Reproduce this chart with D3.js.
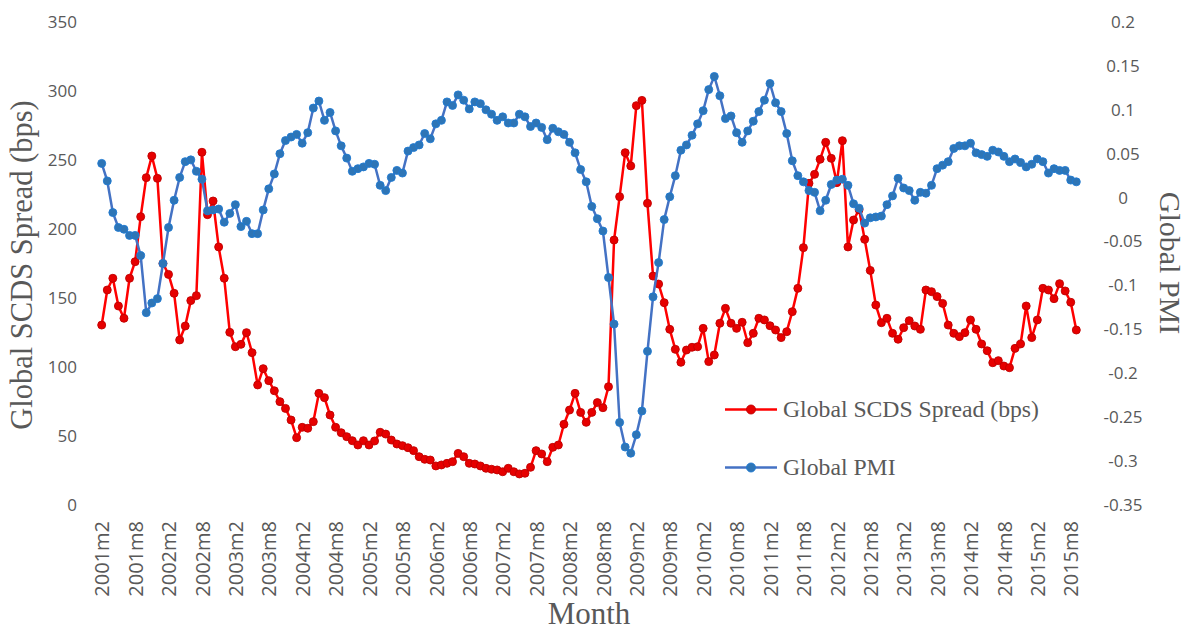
<!DOCTYPE html>
<html>
<head>
<meta charset="utf-8">
<script src="https://cdn.jsdelivr.net/npm/d3@7"></script>
<style>
  html, body { margin: 0; padding: 0; background: #fff; }
  svg { display: block; }
</style>
</head>
<body>
<svg id="chart" width="1191" height="630"></svg>
<script>
// ---- Data ----
// months 2001m2 .. 2015m9 (category names)
const months = [];
for (let y = 2001; y <= 2015; y++) {
  for (let m = 1; m <= 12; m++) {
    if (y === 2001 && m < 2) continue;
    if (y === 2015 && m > 9) continue;
    months.push(y + "m" + m);
  }
}
const tickLabels = ["2001m2","2001m8","2002m2","2002m8","2003m2","2003m8","2004m2","2004m8",
  "2005m2","2005m8","2006m2","2006m8","2007m2","2007m8","2008m2","2008m8","2009m2","2009m8",
  "2010m2","2010m8","2011m2","2011m8","2012m2","2012m8","2013m2","2013m8","2014m2","2014m8",
  "2015m2","2015m8"].filter(d => months.includes(d));

const spread = [
  130.4,155.8,164.3,144.2,135.3,164.3,176.3,208.9,237.2,252.9,236.7,175,
  167.1,153.4,119.6,129.7,148.1,151.7,255.6,210.4,220.3,187,164.3,125.1,
  114.7,116.4,124.9,110.4,87,98.8,90.1,82.8,74.9,70,61.6,48.8,
  56.3,55.6,60.4,80.9,77.8,65.2,56.3,52.4,49.5,46.6,43.5,46.6,
  43.5,46.4,52.7,51.4,47.1,44.2,43,41.5,39.4,35,33.1,32.6,
  28.3,29,30.2,31.4,37.4,35,30.2,29.7,28.3,26.6,25.9,25.4,
  24.1,26.6,24.1,22.5,23,27.3,39.4,37,31.4,41.8,43.5,58.5,
  68.8,80.9,67.1,59.9,67.1,74.2,70.5,85.7,192,223.4,255.3,245.7,
  289.4,293.2,218.6,165.9,160.1,146.6,127.3,112.8,103.4,112.3,114.3,114.7,
  128,103.9,108.7,131.7,142.5,131.7,128,132.4,117.6,124.4,135.3,134.1,
  129.9,126.8,121.3,125.6,140.1,157,186.5,233.1,239.6,250.5,262.8,251.2,
  233.6,264,187,206.5,214,192.5,170,144.9,132.1,135.3,124.4,120.1,
  128.5,133.6,129.7,127.3,155.8,154.6,151,146.1,130.4,124.4,122,124.9,
  134.1,127.3,116.7,111.8,103.1,104.6,100.7,99.5,113.5,116.7,144.2,121.3,
  134.1,157,155.8,149.5,160.4,155.1,146.9,126.8
];
const pmi = [
  0.039,0.019,-0.017,-0.034,-0.036,-0.043,-0.043,-0.066,-0.131,-0.120,-0.115,-0.075,
  -0.034,-0.003,0.023,0.041,0.043,0.030,0.021,-0.015,-0.014,-0.013,-0.028,-0.018,
  -0.008,-0.033,-0.027,-0.041,-0.041,-0.014,0.010,0.027,0.050,0.065,0.069,0.072,
  0.062,0.074,0.102,0.110,0.088,0.097,0.076,0.059,0.045,0.030,0.033,0.035,
  0.039,0.038,0.014,0.008,0.023,0.031,0.028,0.053,0.057,0.060,0.073,0.067,
  0.084,0.088,0.109,0.105,0.117,0.111,0.101,0.109,0.107,0.100,0.095,0.088,
  0.092,0.085,0.085,0.095,0.092,0.081,0.085,0.080,0.066,0.079,0.075,0.072,
  0.063,0.051,0.032,0.018,-0.010,-0.024,-0.038,-0.091,-0.144,-0.256,-0.284,-0.291,
  -0.270,-0.243,-0.175,-0.113,-0.074,-0.025,0.001,0.025,0.054,0.060,0.071,0.084,
  0.099,0.123,0.138,0.116,0.090,0.093,0.074,0.063,0.076,0.087,0.098,0.111,
  0.130,0.108,0.098,0.073,0.042,0.025,0.018,0.008,0.006,-0.015,-0.003,0.015,
  0.020,0.021,0.014,-0.007,-0.012,-0.029,-0.023,-0.022,-0.021,-0.008,0.002,0.022,
  0.011,0.008,-0.003,0.006,0.005,0.014,0.033,0.037,0.041,0.056,0.059,0.059,
  0.062,0.051,0.049,0.047,0.054,0.052,0.047,0.041,0.044,0.040,0.035,0.038,
  0.044,0.041,0.028,0.033,0.031,0.031,0.020,0.018
];
const leftTicks = [0,50,100,150,200,250,300,350];
const rightTicks = [-0.35,-0.3,-0.25,-0.2,-0.15,-0.1,-0.05,0,0.05,0.1,0.15,0.2];

// ---- Layout ----
const svg = d3.select("#chart");
const plotTop = 22, plotBottom = 505;
const x = d3.scalePoint().domain(months).range([101.7, 1076.3]);
const yL = d3.scaleLinear().domain([0, 350]).range([plotBottom, plotTop]);
const yR = d3.scaleLinear().domain([-0.35, 0.2]).range([plotBottom, plotTop]);
const grey = "#595959";
const tickFont = "'Open Sans', 'DejaVu Sans', sans-serif";
const serif = "'Liberation Serif', 'Times New Roman', serif";

// left axis
const gL = svg.append("g").attr("transform", "translate(77,0)")
  .call(d3.axisLeft(yL).tickValues(leftTicks).tickSize(0).tickPadding(0).tickFormat(d3.format("d")));
gL.select(".domain").remove();
gL.selectAll("text").attr("font-family", tickFont).attr("font-size", 17).attr("fill", grey);

// right axis
const gR = svg.append("g").attr("transform", "translate(1123,0)")
  .call(d3.axisRight(yR).tickValues(rightTicks).tickSize(0).tickPadding(0)
    .tickFormat(d => (Math.round(d * 100) / 100).toString()));
gR.select(".domain").remove();
gR.selectAll("text").attr("x", 0).attr("text-anchor", "middle")
  .attr("font-family", tickFont).attr("font-size", 17).attr("fill", grey);

// x axis
const gX = svg.append("g").attr("transform", "translate(0,521)")
  .call(d3.axisBottom(x).tickValues(tickLabels).tickSize(0));
gX.select(".domain").remove();
gX.selectAll("text")
  .attr("transform", "rotate(-90)")
  .attr("x", 0).attr("y", 0).attr("dy", "0.36em")
  .attr("text-anchor", "end")
  .attr("font-family", tickFont).attr("font-size", 20).attr("fill", grey);

// axis titles
svg.append("text")
  .attr("transform", "translate(32,265) rotate(-90)")
  .attr("text-anchor", "middle")
  .attr("font-family", serif).attr("font-size", 30.5).attr("fill", grey)
  .text("Global SCDS Spread (bps)");
svg.append("text")
  .attr("transform", "translate(1160,263) rotate(90)")
  .attr("text-anchor", "middle")
  .attr("font-family", serif).attr("font-size", 30).attr("fill", grey)
  .text("Global PMI");
svg.append("text")
  .attr("x", 589).attr("y", 624)
  .attr("text-anchor", "middle")
  .attr("font-family", serif).attr("font-size", 31).attr("fill", grey)
  .text("Month");

// series
const red = "#FF0000", redDark = "#C00000";
const blueLine = "#4472C4", blueFill = "#2E75B6", blueStroke = "#1F7BD3";

const lineL = d3.line().x((d, i) => x(months[i])).y(d => yL(d));
const lineR = d3.line().x((d, i) => x(months[i])).y(d => yR(d));

svg.append("path").datum(spread).attr("d", lineL)
  .attr("fill", "none").attr("stroke", red).attr("stroke-width", 2.5).attr("stroke-linejoin", "round");
svg.append("g").selectAll("circle").data(spread).join("circle")
  .attr("cx", (d, i) => x(months[i])).attr("cy", d => yL(d)).attr("r", 4)
  .attr("fill", "#E60000").attr("stroke", redDark).attr("stroke-width", 0.9);

svg.append("path").datum(pmi).attr("d", lineR)
  .attr("fill", "none").attr("stroke", blueLine).attr("stroke-width", 2.5).attr("stroke-linejoin", "round");
svg.append("g").selectAll("circle").data(pmi).join("circle")
  .attr("cx", (d, i) => x(months[i])).attr("cy", d => yR(d)).attr("r", 4)
  .attr("fill", blueFill).attr("stroke", blueStroke).attr("stroke-width", 0.9);

// legend
const legend = [
  { label: "Global SCDS Spread (bps)", line: red, fill: "#E60000", stroke: redDark, y: 409.5 },
  { label: "Global PMI", line: blueLine, fill: blueFill, stroke: blueStroke, y: 467.5 }
];
const lg = svg.append("g").selectAll("g").data(legend).join("g")
  .attr("transform", d => `translate(0,${d.y})`);
lg.append("line").attr("x1", 725).attr("x2", 777).attr("y1", 0).attr("y2", 0)
  .attr("stroke", d => d.line).attr("stroke-width", 2.5);
lg.append("circle").attr("cx", 751).attr("cy", 0).attr("r", 4.5)
  .attr("fill", d => d.fill).attr("stroke", d => d.stroke).attr("stroke-width", 0.9);
lg.append("text").attr("x", 783).attr("y", 0).attr("dy", "0.33em")
  .attr("font-family", serif).attr("font-size", 23.7).attr("fill", grey)
  .text(d => d.label);
</script>
</body>
</html>
